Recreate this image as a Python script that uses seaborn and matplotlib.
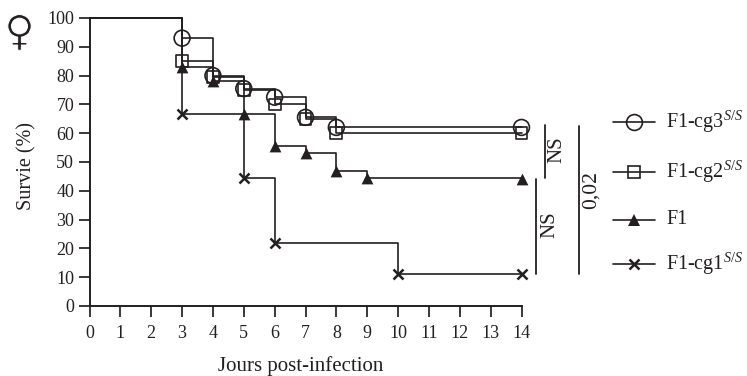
import matplotlib
matplotlib.use("Agg")
import matplotlib.pyplot as plt
import matplotlib.patheffects as pe
import pandas as pd
import seaborn as sns
from matplotlib.lines import Line2D

sns.set_theme(style="ticks")
plt.rcParams["font.family"] = ["Liberation Serif", "DejaVu Serif"]
plt.rcParams["mathtext.fontset"] = "custom"
plt.rcParams["mathtext.rm"] = "Liberation Serif"
plt.rcParams["mathtext.it"] = "Liberation Serif:italic"
plt.rcParams["mathtext.default"] = "it"

# Data
days_cg3 = [0, 3, 4, 5, 6, 7, 8, 14]
surv_cg3 = [100, 93, 80, 75.5, 72.5, 65.5, 62, 62]
days_cg2 = [0, 3, 4, 5, 6, 7, 8, 14]
surv_cg2 = [100, 85, 79.5, 75, 70, 65, 60, 60]
days_f1 = [0, 3, 4, 5, 6, 7, 8, 9, 14]
surv_f1 = [100, 83, 78, 66.5, 55.5, 53, 47, 44.5, 44]
days_cg1 = [0, 3, 5, 6, 10, 14]
surv_cg1 = [100, 66.5, 44.5, 22, 11, 11]
series_names = ["F1-cg3", "F1-cg2", "F1", "F1-cg1"]
legend_labels = ["F1-cg3$^{S/S}$", "F1-cg2$^{S/S}$", "F1", "F1-cg1$^{S/S}$"]
x_ticks = list(range(0, 15))
y_ticks = list(range(0, 101, 10))

INK = "#231f20"
W, H = 747, 376

frames = []
for name, d, s in zip(series_names, [days_cg3, days_cg2, days_f1, days_cg1],
                      [surv_cg3, surv_cg2, surv_f1, surv_cg1]):
    frames.append(pd.DataFrame({"day": d, "survival": s, "group": name}))
df = pd.concat(frames, ignore_index=True)

fig = plt.figure(figsize=(W / 100, H / 100), dpi=100, facecolor="white")
ax = fig.add_axes([89.5 / W, 1 - 306 / H, (521.5 - 89.5) / W, (306 - 18) / H])

palette = {n: INK for n in series_names}
sns.lineplot(data=df, x="day", y="survival", hue="group", palette=palette,
             drawstyle="steps-post", linewidth=1.2, legend=False, ax=ax,
             estimator=None, clip_on=False)

styles = {
    "F1-cg3": dict(marker="o", s=130, facecolors="none", edgecolors=INK, linewidths=1.2),
    "F1-cg2": dict(marker="s", s=72, facecolors="none", edgecolors=INK, linewidths=1.2),
    "F1": dict(marker="^", s=72, color=INK, linewidths=0),
    "F1-cg1": dict(marker="x", s=52, color=INK, linewidths=1.8),
}
for name in series_names:
    sub = df[(df.group == name) & (df.day > 0)]
    ax.scatter(sub["day"], sub["survival"], clip_on=False, zorder=4, **styles[name])

ax.set_xlim(0, 14)
ax.set_ylim(0, 100)
ax.set_xticks(x_ticks)
ax.set_yticks(y_ticks)
ax.tick_params(axis="both", length=8, width=1.25, color=INK, labelcolor=INK,
               labelsize=13)
ax.tick_params(axis="x", pad=6)
ax.tick_params(axis="y", pad=3)
sns.despine(ax=ax)
for side in ("left", "bottom"):
    ax.spines[side].set_linewidth(1.4)
    ax.spines[side].set_color(INK)
ax.set_xlabel("")
ax.set_ylabel("")


def fx(px):
    return px / W


def fy(px):
    return 1 - px / H


def ftext(x, y, s, **kw):
    kw.setdefault("color", INK)
    kw.setdefault("fontsize", 12)
    kw.setdefault("va", "center")
    kw.setdefault("ha", "center")
    fig.text(fx(x), fy(y), s, **kw)


def fline(xs, ys, **kw):
    fig.add_artist(Line2D([fx(v) for v in xs], [fy(v) for v in ys], color=INK,
                          transform=fig.transFigure, **kw))


ftext(301, 366, "Jours post-infection", fontsize=15)
ftext(27, 166, "Survie (%)", rotation=90, fontsize=14.5)
ftext(19.5, 33, "\u2640", fontsize=30, family="DejaVu Sans",
      path_effects=[pe.PathPatchEffect(edgecolor="white", facecolor=INK, linewidth=0.7)])

# Significance brackets
fline([545, 545], [125, 178], linewidth=1.3)
fline([536, 536], [179, 274], linewidth=1.3)
fline([579, 579], [126, 274], linewidth=1.3)
ftext(557, 150, "NS", rotation=90, fontsize=15)
ftext(550, 225, "NS", rotation=90, fontsize=15)
ftext(591, 190, "0,02", rotation=90, fontsize=15.5)

# Legend
legend_y = [122, 172, 220, 264]
for name, lab, y in zip(series_names, legend_labels, legend_y):
    fline([613, 655], [y, y], linewidth=1.2)
    st = styles[name]
    fig.add_artist(Line2D([fx(634)], [fy(y)], transform=fig.transFigure, linestyle="none",
                          marker=st["marker"],
                          markersize=st["s"] ** 0.5,
                          markerfacecolor="none" if name in ("F1-cg3", "F1-cg2") else INK,
                          markeredgecolor=INK,
                          markeredgewidth=st["linewidths"] if st["linewidths"] else 0))
    ftext(666, y - 0.5, lab, ha="left", fontsize=14.5)

fig.savefig("out.png", dpi=100, facecolor="white")
